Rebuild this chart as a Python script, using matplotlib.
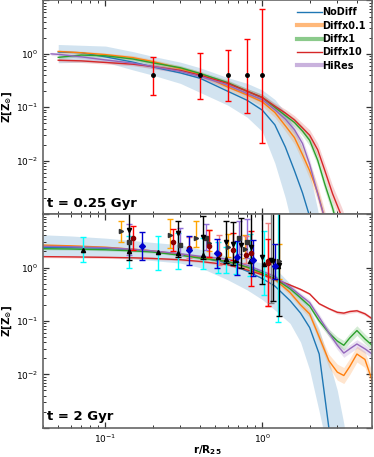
import numpy as np
import matplotlib
matplotlib.use("Agg")
import matplotlib.pyplot as plt
from matplotlib.lines import Line2D
from matplotlib.ticker import FixedLocator, LogLocator, NullFormatter

plt.rcParams['mathtext.fontset'] = 'dejavusans'

# ------------------------- data -------------------------
labels = ["NoDiff", "Diffx0.1", "Diffx1", "Diffx10", "HiRes"]
colors = ["C0", "C1", "C2", "C3", "C4"]

# t = 0.25 Gyr
r_top = [0.045, 0.05, 0.07, 0.1, 0.15, 0.2, 0.3, 0.4, 0.6, 0.8, 1.0, 1.2, 1.4,
         1.6, 1.8, 2.0, 2.25, 2.5, 2.8, 3.2, 3.6, 4.2, 5.0]
z_top = {
    "NoDiff":   [np.nan, 1.08, 1.05, 0.88, 0.70, 0.57, 0.44, 0.35, 0.20, 0.135, 0.088, 0.047,
                 0.018, 0.0065, 0.0025, 0.0009, 2e-4, 5e-5, 1e-5, 1e-5, 1e-5, 1e-5, 1e-5],
    "Diffx0.1": [np.nan, 1.11, 1.05, 0.97, 0.85, 0.72, 0.53, 0.42, 0.24, 0.17, 0.126, 0.08,
                 0.045, 0.027, 0.013, 0.0065, 0.0025, 8e-4, 1e-4, 1e-5, 1e-5, 1e-5, 1e-5],
    "Diffx1":   [np.nan, 0.86, 0.95, 0.92, 0.80, 0.68, 0.55, 0.43, 0.29, 0.20, 0.152, 0.10,
                 0.07, 0.052, 0.036, 0.024, 0.0102, 0.0036, 0.0013, 3e-4, 1e-5, 1e-5, 1e-5],
    "Diffx10":  [np.nan, 0.76, 0.74, 0.69, 0.64, 0.58, 0.49, 0.40, 0.28, 0.20, 0.152, 0.105,
                 0.078, 0.058, 0.041, 0.030, 0.016, 0.0065, 0.0024, 9e-4, 2e-4, 1e-5, 1e-5],
    "HiRes":    [1.0, 0.98, 0.88, 0.77, 0.67, 0.58, 0.47, 0.38, 0.26, 0.18, 0.139, 0.09,
                 0.06, 0.038, 0.021, 0.0085, 0.0024, 8e-4, 1e-4, 1e-5, 1e-5, 1e-5, 1e-5],
}
# NoDiff spread (lower / upper)
lo_top = [np.nan, 0.68, 0.70, 0.70, 0.50, 0.40, 0.28, 0.19, 0.11, 0.065, 0.035, 0.009,
          0.002, 4e-4, 1e-4, 5e-5, 1e-5, 1e-5, 1e-5, 1e-5, 1e-5, 1e-5, 1e-5]
hi_top = [np.nan, 1.5, 1.45, 1.40, 1.10, 0.90, 0.70, 0.55, 0.36, 0.28, 0.21, 0.14,
          0.08, 0.04, 0.017, 0.006, 0.0012, 2e-4, 1e-5, 1e-5, 1e-5, 1e-5, 1e-5]
# spread of the other runs, dex
sig_top = {
    "Diffx0.1": [0.03, 0.03, 0.03, 0.03, 0.04, 0.04, 0.05, 0.05, 0.06, 0.07, 0.08, 0.09,
                 0.10, 0.12, 0.13, 0.15, 0.15, 0.15, 0.15, 0.15, 0.1, 0.1, 0.1],
    "Diffx1":   [0.03, 0.03, 0.03, 0.03, 0.03, 0.04, 0.04, 0.04, 0.05, 0.05, 0.06, 0.06,
                 0.07, 0.08, 0.09, 0.10, 0.10, 0.12, 0.12, 0.12, 0.1, 0.1, 0.1],
    "Diffx10":  [0.03, 0.03, 0.03, 0.03, 0.03, 0.04, 0.04, 0.04, 0.05, 0.05, 0.06, 0.06,
                 0.07, 0.08, 0.09, 0.10, 0.12, 0.13, 0.15, 0.17, 0.4, 1.2, 0.3],
    "HiRes":    [0.03, 0.03, 0.03, 0.03, 0.03, 0.04, 0.04, 0.04, 0.05, 0.05, 0.06, 0.06,
                 0.07, 0.08, 0.09, 0.10, 0.10, 0.12, 0.12, 0.12, 0.1, 0.1, 0.1],
}
# observed gradient, t = 0.25 Gyr
obs_r = [0.2, 0.4, 0.6, 0.8, 1.0]
obs_z = [0.4, 0.4, 0.4, 0.4, 0.4]
obs_lo = [0.168, 0.146, 0.131, 0.078, 0.0216]
obs_hi = [0.87, 1.05, 1.16, 1.92, 7.0]

# t = 2 Gyr
r_bot = [0.04, 0.06, 0.1, 0.15, 0.2, 0.3, 0.4, 0.6, 0.8, 1.0, 1.2, 1.5, 1.75,
         2.0, 2.3, 2.65, 3.0, 3.3, 3.6, 4.0, 4.5, 5.0]
z_bot = {
    "NoDiff":   [2.4, 2.35, 2.3, 2.15, 2.0, 1.75, 1.55, 1.22, 0.85, 0.62, 0.45, 0.24, 0.14,
                 0.075, 0.024, 0.001, 1e-5, 1e-5, 1e-5, 1e-5, 1e-5, 1e-5],
    "Diffx0.1": [2.63, 2.55, 2.4, 2.2, 2.05, 1.76, 1.55, 1.3, 1.0, 0.76, 0.6, 0.34, 0.2,
                 0.135, 0.05, 0.018, 0.011, 0.0095, 0.014, 0.024, 0.019, 0.0077],
    "Diffx1":   [2.25, 2.22, 2.15, 2.05, 1.95, 1.7, 1.5, 1.3, 1.02, 0.79, 0.62, 0.40, 0.27,
                 0.19, 0.10, 0.06, 0.042, 0.035, 0.048, 0.066, 0.046, 0.035],
    "Diffx10":  [1.6, 1.58, 1.55, 1.52, 1.48, 1.4, 1.3, 1.13, 0.9, 0.73, 0.6, 0.47, 0.39,
                 0.32, 0.21, 0.17, 0.145, 0.14, 0.15, 0.155, 0.136, 0.11],
    "HiRes":    [2.5, 2.45, 2.35, 2.2, 2.05, 1.81, 1.62, 1.44, 1.1, 0.85, 0.68, 0.43, 0.3,
                 0.22, 0.117, 0.06, 0.035, 0.025, 0.03, 0.037, 0.03, 0.024],
}
lo_bot = [1.66, 1.62, 1.57, 1.45, 1.35, 1.21, 1.0, 0.59, 0.38, 0.25, 0.16, 0.09, 0.04,
          0.012, 0.002, 3e-4, 1e-5, 1e-5, 1e-5, 1e-5, 1e-5, 1e-5]
hi_bot = [4.1, 3.9, 3.55, 3.2, 2.95, 2.67, 2.2, 1.62, 1.4, 1.21, 0.98, 0.5, 0.3,
          0.17, 0.07, 0.018, 0.005, 0.0012, 2e-4, 1e-5, 1e-5, 1e-5]
sig_bot = {
    "Diffx0.1": [0.02, 0.02, 0.02, 0.02, 0.02, 0.02, 0.03, 0.03, 0.03, 0.03, 0.04, 0.05,
                 0.06, 0.07, 0.09, 0.12, 0.15, 0.15, 0.15, 0.15, 0.15, 0.15],
    "Diffx1":   [0.02, 0.02, 0.02, 0.02, 0.02, 0.02, 0.03, 0.03, 0.03, 0.03, 0.04, 0.04,
                 0.05, 0.05, 0.06, 0.07, 0.08, 0.09, 0.09, 0.09, 0.09, 0.09],
    "Diffx10":  [0.02, 0.02, 0.02, 0.02, 0.02, 0.02, 0.02, 0.02, 0.02, 0.02, 0.02, 0.02,
                 0.02, 0.02, 0.02, 0.02, 0.03, 0.03, 0.03, 0.03, 0.03, 0.03],
    "HiRes":    [0.02, 0.02, 0.02, 0.02, 0.02, 0.02, 0.03, 0.03, 0.03, 0.03, 0.04, 0.04,
                 0.05, 0.05, 0.06, 0.07, 0.08, 0.08, 0.08, 0.08, 0.08, 0.08],
}

# observational compilation, t = 2 Gyr: (bar colour, marker, marker colour, r, Z, lo, hi)
obs_sets = [
    ("cyan", "^", "k",
     [0.072, 0.142, 0.215, 0.29, 0.42, 0.52, 0.59, 0.68, 0.83, 1.02, 1.25],
     [2.12, 2.0, 1.95, 1.9, 1.75, 1.6, 1.45, 1.4, 1.3, 1.15, 1.05],
     [1.25, 1.0, 0.9, 0.95, 0.95, 0.8, 0.8, 0.75, 0.7, 0.3, 0.094],
     [3.7, 3.9, 3.9, 4.4, 3.5, 3.0, 2.4, 3.0, 4.2, 4.8, 12.0]),
    ("orange", ">", "0.2",
     [0.126, 0.256, 0.378, 0.46, 0.6, 0.776, 1.28],
     [4.74, 4.1, 3.6, 2.9, 2.4, 2.2, 1.3],
     [2.96, 2.3, 2.4, 2.0, 1.6, 1.5, 0.6],
     [7.3, 8.0, 7.5, 5.0, 4.3, 4.0, 2.75]),
    ("mediumpurple", "s", "0.2",
     [0.142, 0.30, 0.44, 0.71, 0.80],
     [3.0, 2.6, 3.6, 3.5, 3.0],
     [1.7, 1.7, 2.1, 1.8, 1.5],
     [6.5, 5.5, 6.5, 7.5, 8.2]),
    ("lightcoral", "o", "darkred",
     [0.34, 0.53, 0.79, 1.08],
     [2.3, 1.8, 1.7, 1.3],
     [1.5, 1.1, 1.2, 0.19],
     [3.8, 4.0, 3.9, 6.7]),
    ("red", "o", "darkred",
     [0.149, 0.268, 0.46, 0.647, 0.847, 1.08],
     [3.56, 3.0, 2.5, 2.1, 1.9, 1.2],
     [2.1, 2.0, 1.6, 1.4, 0.45, 0.19],
     [6.0, 5.2, 5.0, 4.4, 4.8, 3.4]),
    ("gray", "v", "k",
     [1.13],
     [1.4],
     [0.22],
     [12.0]),
    ("k", "v", "k",
     [0.142, 0.289, 0.417, 0.587, 0.647, 0.731, 0.847, 1.0, 1.16, 1.28],
     [5.0, 4.5, 3.8, 3.0, 2.8, 2.6, 2.4, 1.6, 1.3, 1.1],
     [1.4, 1.55, 1.45, 1.2, 1.1, 1.0, 0.8, 0.5, 0.24, 0.126],
     [12.0, 7.5, 9.3, 7.5, 7.0, 8.5, 12.0, 12.0, 12.0, 12.0]),
    ("mediumblue", "D", "mediumblue",
     [0.171, 0.343, 0.512, 0.686, 0.877, 1.21],
     [2.49, 2.15, 1.84, 1.6, 1.38, 1.05],
     [1.4, 1.1, 0.96, 0.72, 0.7, 0.6],
     [4.6, 3.9, 3.4, 3.2, 3.3, 2.8]),
]


def draw_runs(ax, r, zs, lo, hi, sigs):
    r = np.array(r)
    ax.fill_between(r, lo, hi, color="C0", alpha=0.2, lw=0)
    for lab, col in zip(labels, colors):
        z = np.array(zs[lab])
        if lab in sigs:
            s = np.array(sigs[lab])
            ax.fill_between(r, z * 10**-s, z * 10**s, color=col, alpha=0.2, lw=0)
        ax.plot(r, z, color=col, lw=1.0)


def style_axis(ax):
    ax.set_xscale("log")
    ax.set_yscale("log")
    ax.set_xlim(0.04, 5.0)
    ax.set_ylim(1e-3, 10)
    ax.yaxis.set_major_locator(FixedLocator([1e-3, 1e-2, 1e-1, 1, 10]))
    ax.yaxis.set_major_formatter(matplotlib.ticker.FuncFormatter(
        lambda v, p: "" if v < 5e-3 or v > 5 else "$10^{%d}$" % round(np.log10(v))))
    ax.yaxis.set_minor_locator(LogLocator(base=10, subs=np.arange(2, 10)))
    ax.yaxis.set_minor_formatter(NullFormatter())
    ax.xaxis.set_minor_locator(LogLocator(base=10, subs=np.arange(2, 10)))
    ax.xaxis.set_minor_formatter(NullFormatter())
    ax.tick_params(which="both", direction="in", top=True, right=True, labelsize=6.5,
                   color="0.2")
    ax.tick_params(which="major", length=4.5, width=0.9)
    ax.tick_params(which="minor", length=2.5, width=0.7)
    for sp in ax.spines.values():
        sp.set_color("0.4")
        sp.set_linewidth(1.2)
    ax.set_ylabel(r"$\mathbf{Z[Z_{\odot}]}$", fontsize=7.5)
    ax.yaxis.set_label_coords(-0.088, 0.5)


fig, (ax1, ax2) = plt.subplots(2, 1, figsize=(3.74, 4.57), sharex=True)
fig.subplots_adjust(left=0.115, right=0.995, top=0.999, bottom=0.064, hspace=0)

# top panel
draw_runs(ax1, r_top, z_top, lo_top, hi_top, sig_top)
obs_z_arr = np.array(obs_z)
ax1.errorbar(obs_r, obs_z, yerr=[obs_z_arr - np.array(obs_lo), np.array(obs_hi) - obs_z_arr],
             fmt="o", color="k", ms=2.5, ecolor="red", elinewidth=1.0, capsize=2.5, capthick=1.0)
style_axis(ax1)
ax1.text(0.013, 0.02, "t = 0.25 Gyr", transform=ax1.transAxes, fontsize=9.5,
         fontweight="bold", ha="left", va="bottom")

handles = [
    Line2D([], [], color="C0", lw=1.0),
    Line2D([], [], color="C1", lw=3.0, alpha=0.55),
    Line2D([], [], color="C2", lw=3.0, alpha=0.55),
    Line2D([], [], color="C3", lw=1.0),
    Line2D([], [], color="C4", lw=3.0, alpha=0.5),
]
ax1.legend(handles, labels, loc="upper right", frameon=False, handlelength=2.6,
           handletextpad=0.0, labelspacing=0.35, borderaxespad=0.3,
           prop={"size": 7, "weight": "bold"})

# bottom panel
draw_runs(ax2, r_bot, z_bot, lo_bot, hi_bot, sig_bot)
for ecol, mk, mcol, rr, zz, lo, hi in obs_sets:
    zz = np.array(zz)
    ax2.errorbar(rr, zz, yerr=[zz - np.array(lo), np.array(hi) - zz], fmt=mk, color=mcol,
                 ms=3, ecolor=ecol, elinewidth=1.0, capsize=2.5, capthick=1.0)
style_axis(ax2)
ax2.text(0.013, 0.02, "t = 2 Gyr", transform=ax2.transAxes, fontsize=9.5,
         fontweight="bold", ha="left", va="bottom")
ax2.set_xlabel(r"$\mathbf{r/R_{25}}$", fontsize=7.5)
ax2.xaxis.set_label_coords(0.5, -0.072)

fig.savefig("out.png", dpi=100)
